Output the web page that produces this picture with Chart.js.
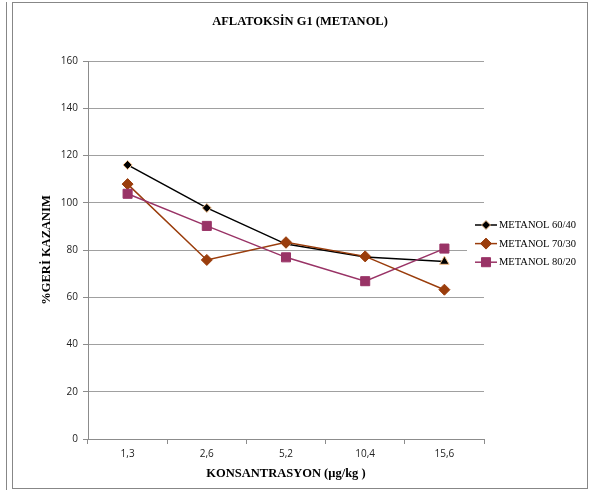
<!DOCTYPE html>
<html>
<head>
<meta charset="utf-8">
<script src="https://cdn.jsdelivr.net/npm/chart.js@4.4.1/dist/chart.umd.min.js"></script>
<style>
  html, body { margin: 0; padding: 0; background: #fff; }
  #wrap { position: relative; width: 590px; height: 493px; overflow: hidden; }
  #chart { position: absolute; left: 0; top: 0; }
  .frame { position: absolute; left: 12px; top: 2px; width: 574px; height: 485px; border: 1.5px solid #878787; }
  .side { position: absolute; left: 6px; top: 2px; width: 0; height: 488px; border-left: 1.5px solid #878787; }
</style>
</head>
<body>
<div id="wrap">
  <div class="side"></div>
  <div class="frame"></div>
  <canvas id="chart" width="590" height="493"></canvas>
</div>
<script>
// Concentrations (µg/kg) on the category axis
const categories = ['1,3', '2,6', '5,2', '10,4', '15,6'];

// Recovery (%) for each methanol/water ratio
const metanol6040 = [116.0, 97.8, 82.5, 77.0, 75.1];
const metanol7030 = [107.9, 75.8, 83.3, 77.3, 63.2];
const metanol8020 = [103.8, 90.2, 76.9, 66.8, 80.6];

const seriesNames = ['METANOL 60/40', 'METANOL 70/30', 'METANOL 80/20'];
const yTicks = [0, 20, 40, 60, 80, 100, 120, 140, 160];

const chartTitle = 'AFLATOKSİN G1 (METANOL)';
const xTitle = 'KONSANTRASYON (µg/kg )';
const yTitle = '%GERİ KAZANIM';

const BLACK = '#000000';
const BROWN = '#9a3d0c';
const PLUM = '#993366';
const AXIS = '#8c8c8c';
const GRID = '#a0a0a0';

// Title centred over the whole chart frame
const titlePlugin = {
  id: 'frameTitle',
  afterDraw(chart) {
    const ctx = chart.ctx;
    ctx.save();
    ctx.font = 'bold 12.5px "Liberation Serif"';
    ctx.fillStyle = '#000';
    ctx.textAlign = 'center';
    ctx.textBaseline = 'middle';
    ctx.fillText(chartTitle, 300, 22);
    ctx.restore();
  }
};

// Legend box to the right of the plot, built from the dataset styles
const sideLegend = {
  id: 'sideLegend',
  afterDraw(chart) {
    const ctx = chart.ctx;
    ctx.save();
    ctx.fillStyle = '#fff';
    ctx.fillRect(467, 213, 118, 62);
    chart.data.datasets.forEach((ds, i) => {
      const y = 225 + i * 18.6;
      ctx.strokeStyle = ds.borderColor;
      ctx.lineWidth = 1.5;
      ctx.beginPath();
      ctx.moveTo(475, y);
      ctx.lineTo(497, y);
      ctx.stroke();
      const style = Array.isArray(ds.pointStyle) ? ds.pointStyle[0] : ds.pointStyle;
      const radius = Array.isArray(ds.pointRadius) ? ds.pointRadius[0] : ds.pointRadius;
      ctx.fillStyle = ds.pointBackgroundColor;
      ctx.strokeStyle = ds.pointBorderColor;
      ctx.lineWidth = ds.pointBorderWidth;
      Chart.helpers.drawPoint(ctx, { pointStyle: style, radius: radius, rotation: 0, borderWidth: ds.pointBorderWidth }, 486, y);
      ctx.fillStyle = '#000';
      ctx.font = '10.5px "Liberation Serif"';
      ctx.textAlign = 'left';
      ctx.textBaseline = 'middle';
      ctx.fillText(ds.label, 499, y + 0.5);
    });
    ctx.restore();
  }
};

new Chart(document.getElementById('chart'), {
  type: 'line',
  data: {
    labels: categories,
    datasets: [
      {
        label: seriesNames[0],
        data: metanol6040,
        order: 3,
        borderColor: BLACK,
        borderWidth: 1.5,
        tension: 0,
        pointStyle: ['rectRot', 'rectRot', 'rectRot', 'rectRot', 'triangle'],
        pointRadius: [4.5, 4.5, 4.5, 4.5, 5.5],
        pointBackgroundColor: BLACK,
        pointBorderColor: '#f6c08c',
        pointBorderWidth: 1
      },
      {
        label: seriesNames[1],
        data: metanol7030,
        order: 2,
        borderColor: BROWN,
        borderWidth: 1.5,
        tension: 0,
        pointStyle: 'rectRot',
        pointRadius: 5.5,
        pointBackgroundColor: BROWN,
        pointBorderColor: BROWN,
        pointBorderWidth: 1
      },
      {
        label: seriesNames[2],
        data: metanol8020,
        order: 1,
        borderColor: PLUM,
        borderWidth: 1.5,
        tension: 0,
        pointStyle: 'rect',
        pointRadius: 6.4,
        pointBackgroundColor: PLUM,
        pointBorderColor: PLUM,
        pointBorderWidth: 1
      }
    ]
  },
  options: {
    responsive: false,
    animation: false,
    devicePixelRatio: 1,
    layout: { padding: { left: 12, top: 61, right: 106, bottom: 6 } },
    plugins: {
      legend: { display: false },
      title: { display: false },
      tooltip: { enabled: false }
    },
    scales: {
      x: {
        type: 'category',
        offset: true,
        grid: { offset: true, drawOnChartArea: false, tickLength: 5, color: AXIS, tickColor: AXIS },
        border: { color: AXIS, width: 1 },
        ticks: { font: { family: 'Open Sans', size: 10 }, color: '#222', padding: 4, maxRotation: 0 },
        title: {
          display: true, text: xTitle, color: '#000',
          font: { family: 'Liberation Serif', size: 12.5, weight: 'bold' },
          padding: { top: 0, bottom: 5.5 }
        },
        afterFit(scale) { scale.height = 48; }
      },
      y: {
        min: 0,
        max: 160,
        afterBuildTicks(scale) { scale.ticks = yTicks.map(v => ({ value: v })); },
        grid: { color: GRID, tickLength: 5, tickColor: AXIS },
        border: { color: AXIS, width: 1 },
        ticks: { font: { family: 'Open Sans', size: 10 }, color: '#222', padding: 5 },
        title: {
          display: true, text: yTitle, color: '#000',
          font: { family: 'Liberation Serif', size: 12.5, weight: 'bold' },
          padding: { top: 27.5, bottom: 0 }
        },
        afterFit(scale) { scale.width = 76; }
      }
    }
  },
  plugins: [titlePlugin, sideLegend]
});
</script>
</body>
</html>
